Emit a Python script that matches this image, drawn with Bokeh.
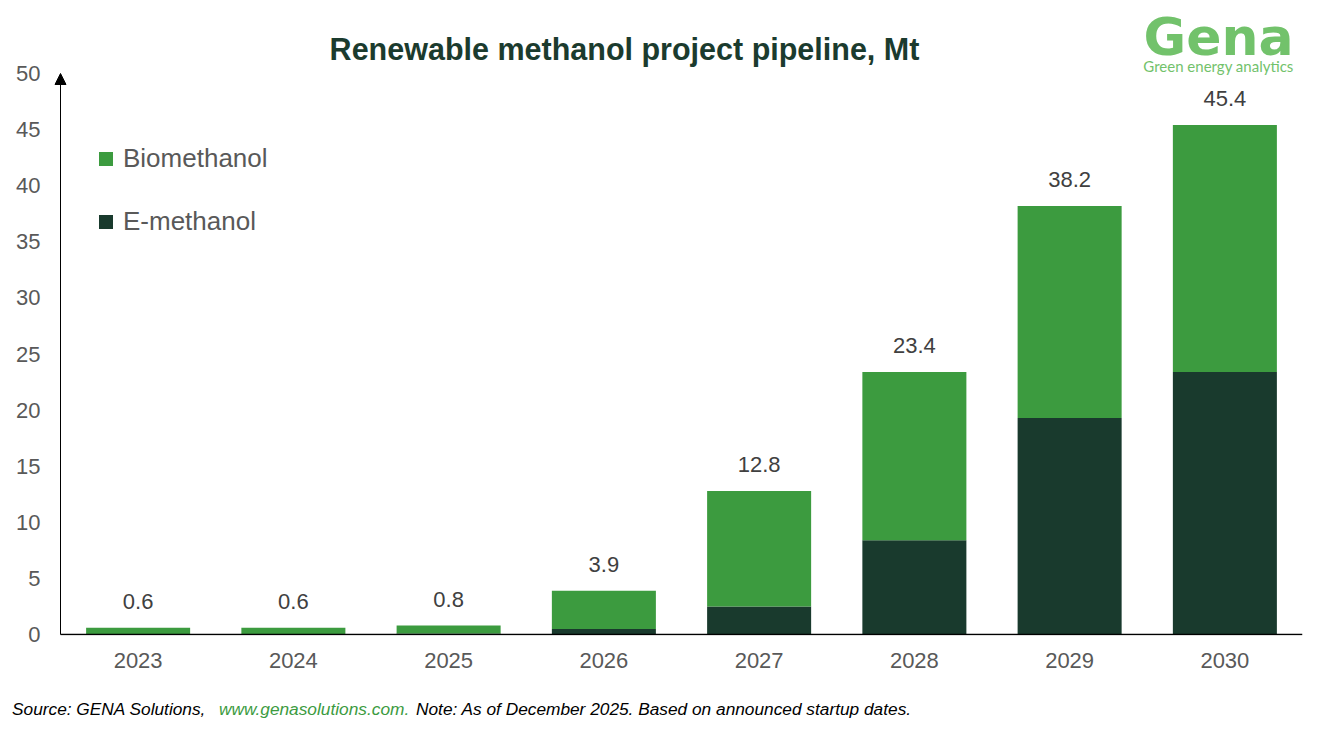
from bokeh.plotting import figure
from bokeh.layouts import column
from bokeh.models import (ColumnDataSource, FixedTicker, Range1d, Legend,
                          LegendItem, Label, Arrow, NormalHead, Div)
from bokeh.core.properties import value
from bokeh.embed import file_html
from bokeh.resources import INLINE

# ---- data ----
years = ["2023", "2024", "2025", "2026", "2027", "2028", "2029", "2030"]
e_methanol = [0.0, 0.0, 0.1, 0.5, 2.5, 8.4, 19.3, 23.4]
biomethanol = [0.6, 0.6, 0.7, 3.4, 10.3, 15.0, 18.9, 22.0]
total_labels = ["0.6", "0.6", "0.8", "3.9", "12.8", "23.4", "38.2", "45.4"]
y_ticks = [0, 5, 10, 15, 20, 25, 30, 35, 40, 45, 50]
series_names = ["Biomethanol", "E-methanol"]
title_text = "Renewable methanol project pipeline, Mt"
source_parts = ["Source: GENA Solutions,", "www.genasolutions.com.",
                "Note: As of December 2025. Based on announced startup dates."]

FONT = "Liberation Sans"
BIO = "#3C9B3F"
EM = "#193A2D"
TXT = "#595959"
TITLE_C = "#1B3B2E"
LOGO_C = "#72C26B"

xpos = [i + 0.5 for i in range(len(years))]
totals = [e + b for e, b in zip(e_methanol, biomethanol)]
src = ColumnDataSource(dict(x=xpos, year=years, e=e_methanol, bio=biomethanol,
                            total=totals, lab=total_labels))

# frame: left edge 7px before the y axis line, top at canvas top
PX = 11.22
Y_TOP = 50 + 73 / PX
Y_BOT = -1 / PX
X_LEFT = -7 / 155.25
p = figure(x_range=Range1d(X_LEFT, len(years)), y_range=Range1d(Y_BOT, Y_TOP),
           width=1311, height=680, output_backend="svg", toolbar_location=None,
           min_border_left=53, min_border_right=9, min_border_top=0,
           min_border_bottom=45)
p.title.visible = False
p.outline_line_color = None
p.xgrid.grid_line_color = None
p.ygrid.grid_line_color = None
p.background_fill_color = "white"
p.border_fill_color = "white"

p.vbar_stack(["e", "bio"], x="x", width=0.67, source=src,
             fill_color=[EM, BIO], line_color=None)

p.text(x="x", y="total", text="lab", source=src, text_align="center",
       text_baseline="bottom", y_offset=-19, text_font=value(FONT),
       text_font_size="22px", text_color="#404040")

# x axis baseline
p.segment(x0=0, y0=0, x1=len(years), y1=0, line_color="black", line_width=1.5)

# axes
xa = p.xaxis[0]
xa.ticker = FixedTicker(ticks=xpos)
xa.major_label_overrides = {x: y for x, y in zip(xpos, years)}
xa.axis_line_color = None
xa.major_tick_line_color = None
xa.minor_tick_line_color = None
xa.major_tick_out = 0
xa.major_tick_in = 0
xa.major_label_standoff = 17
xa.major_label_text_font = FONT
xa.major_label_text_font_size = "22px"
xa.major_label_text_color = TXT

ya = p.yaxis[0]
ya.ticker = FixedTicker(ticks=y_ticks)
ya.axis_line_color = None
ya.major_tick_line_color = None
ya.minor_tick_line_color = None
ya.major_tick_out = 0
ya.major_tick_in = 0
ya.major_label_standoff = 13
ya.major_label_text_font = FONT
ya.major_label_text_font_size = "22px"
ya.major_label_text_color = TXT

# y axis line with arrow head
p.add_layout(Arrow(x_start=0, y_start=0, x_end=0, y_end=50,
                   line_color="black", line_width=1,
                   end=NormalHead(size=11, fill_color="black", line_color="black",
                                  line_width=1)))

# legend (dummy square markers)
lg_bio = p.scatter(x=[xpos[0]], y=[float("nan")], marker="square", size=14,
                   fill_color=BIO, line_color=None)
lg_em = p.scatter(x=[xpos[0]], y=[float("nan")], marker="square", size=14,
                  fill_color=EM, line_color=None)
legend = Legend(items=[LegendItem(label=series_names[0], renderers=[lg_bio]),
                       LegendItem(label=series_names[1], renderers=[lg_em])],
                location=(35, 396), glyph_width=35, glyph_height=35,
                label_standoff=-11, spacing=28, padding=0, margin=0,
                border_line_color=None, background_fill_alpha=0,
                label_text_font=FONT, label_text_font_size="26px",
                label_text_color=TXT)
p.add_layout(legend)

# title (inside the frame area above the plot)
p.add_layout(Label(x=571, y=587, x_units="screen", y_units="screen",
                   text=title_text, text_align="center", text_baseline="middle",
                   text_font=FONT, text_font_size="30.5px", text_font_style="bold",
                   text_color=TITLE_C))

# logo
p.add_layout(Label(x=1165, y=599, x_units="screen", y_units="screen", text="Gena",
                   text_align="center", text_baseline="middle",
                   text_font="DejaVu Sans", text_font_size="52px",
                   text_font_style="bold", text_color=LOGO_C))
p.add_layout(Label(x=1165, y=570, x_units="screen", y_units="screen",
                   text="Green energy analytics", text_align="center",
                   text_baseline="middle", text_font="Lato",
                   text_font_size="15px", text_color=LOGO_C))

# source line
span_style = ("position:absolute;top:19px;white-space:nowrap;line-height:20px;"
              "font-family:'Liberation Sans',Arial,sans-serif;font-style:italic;"
              "font-size:17.3px;")
html = ('<div style="position:relative;width:1311px;height:48px;">'
        f'<span style="{span_style}left:12px;color:#000000;">{source_parts[0]}</span>'
        f'<span style="{span_style}left:219px;color:{BIO};">{source_parts[1]}</span>'
        f'<span style="{span_style}left:416px;color:#000000;">{source_parts[2]}</span>'
        '</div>')
src_div = Div(text=html, width=1311, height=48, margin=0)

layout = column(p, src_div, spacing=0)
open("out.html", "w").write(file_html(layout, INLINE))
